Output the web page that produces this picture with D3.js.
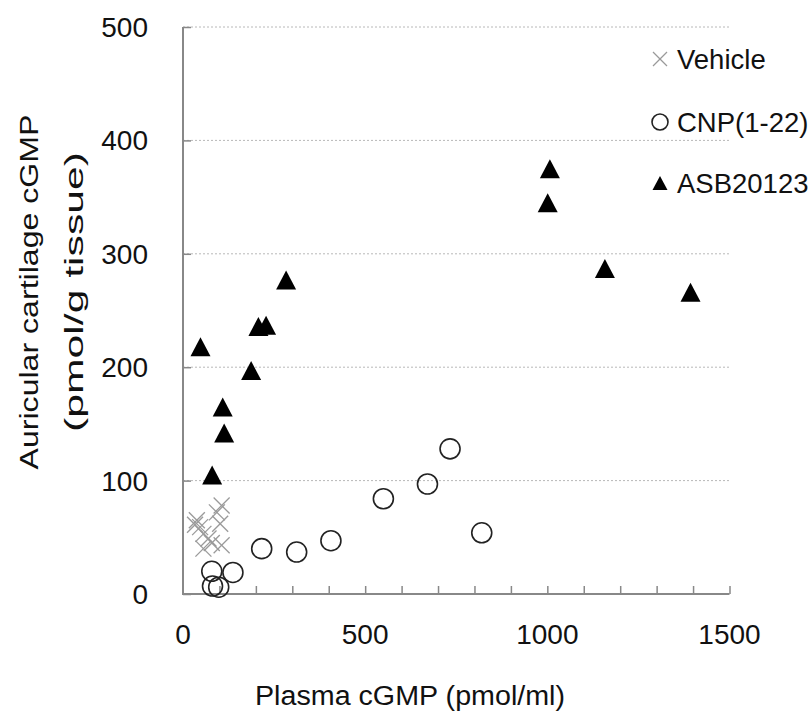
<!DOCTYPE html>
<html>
<head>
<meta charset="utf-8">
<script src="https://cdn.jsdelivr.net/npm/d3@7"></script>
<style>
  body { margin: 0; background: #fff; }
  text { font-family: "Liberation Sans", Arial, sans-serif; fill: #111; }
</style>
</head>
<body>
<div id="chart"></div>
<script>
// values
var vehicleX = [106, 93, 38, 102, 33, 47, 56, 70, 79, 106, 56];
var vehicleY = [78, 72, 65, 62, 61, 59, 53, 49, 45, 43, 40];

var cnpX = [79, 81, 98, 137, 216, 312, 406, 550, 671, 733, 820];
var cnpY = [20, 7, 6, 19, 40, 37, 47, 84, 97, 128, 54];

var asbX = [48, 80, 109, 113, 187, 207, 228, 283, 1001, 1007, 1158, 1393];
var asbY = [218, 105, 165, 142, 197, 236, 237, 277, 345, 375, 287, 266];

var xTicks = [0, 500, 1000, 1500];
var yTicks = [0, 100, 200, 300, 400, 500];
var legendLabels = ["Vehicle", "CNP(1-22)", "ASB20123"];

var width = 811, height = 722;

var x = d3.scaleLinear().domain([0, 1500]).range([183, 729.5]);
var y = d3.scaleLinear().domain([0, 500]).range([594, 27]);

var svg = d3.select("#chart").append("svg")
    .attr("width", width)
    .attr("height", height);

// gridlines
svg.append("g").selectAll("line")
    .data(yTicks.slice(1))
  .enter().append("line")
    .attr("x1", x(0)).attr("x2", x(1500))
    .attr("y1", d => y(d)).attr("y2", d => y(d))
    .attr("stroke", "#b8b8b8")
    .attr("stroke-width", 1)
    .attr("stroke-dasharray", "2,2");

// y axis, ticks pointing inside
var yAxis = d3.axisRight(y).tickValues(yTicks).tickSize(8).tickFormat("");
var gy = svg.append("g").attr("transform", "translate(" + x(0) + ",0)").call(yAxis);
gy.select(".domain").remove();
gy.selectAll(".tick line").attr("stroke", "#888").attr("stroke-width", 1.5);

// x axis, minor ticks every 100 pointing up
var xAxis = d3.axisTop(x).tickValues(d3.range(100, 1501, 100)).tickSize(8).tickFormat("");
var gx = svg.append("g").attr("transform", "translate(0," + y(0) + ")").call(xAxis);
gx.select(".domain").remove();
gx.selectAll(".tick line").attr("stroke", "#888").attr("stroke-width", 1.5);

// axis lines
svg.append("line")
    .attr("x1", x(0)).attr("x2", x(0))
    .attr("y1", y(500)).attr("y2", y(0))
    .attr("stroke", "#888").attr("stroke-width", 2);
svg.append("line")
    .attr("x1", x(0) - 1).attr("x2", x(1500))
    .attr("y1", y(0)).attr("y2", y(0))
    .attr("stroke", "#888").attr("stroke-width", 2);

// tick labels
svg.append("g").selectAll("text")
    .data(yTicks)
  .enter().append("text")
    .attr("x", 148)
    .attr("y", d => y(d))
    .attr("dy", "0.36em")
    .attr("text-anchor", "end")
    .style("font-size", "28px")
    .text(d => d);

svg.append("g").selectAll("text")
    .data(xTicks)
  .enter().append("text")
    .attr("x", d => x(d))
    .attr("y", 644)
    .attr("text-anchor", "middle")
    .style("font-size", "28px")
    .text(d => d);

// axis titles
svg.append("text")
    .attr("x", 410)
    .attr("y", 705)
    .attr("text-anchor", "middle")
    .attr("textLength", 310)
    .attr("lengthAdjust", "spacingAndGlyphs")
    .style("font-size", "27px")
    .text("Plasma cGMP (pmol/ml)");

svg.append("text")
    .attr("transform", "translate(38,292) rotate(-90)")
    .attr("text-anchor", "middle")
    .attr("textLength", 355)
    .attr("lengthAdjust", "spacingAndGlyphs")
    .style("font-size", "26px")
    .text("Auricular cartilage cGMP");

svg.append("text")
    .attr("transform", "translate(83,292) rotate(-90)")
    .attr("text-anchor", "middle")
    .attr("textLength", 280)
    .attr("lengthAdjust", "spacingAndGlyphs")
    .style("font-size", "26px")
    .text("(pmol/g tissue)");

// markers
function cross(g, s) {
  g.append("line").attr("x1", -s).attr("y1", -s).attr("x2", s).attr("y2", s);
  g.append("line").attr("x1", -s).attr("y1", s).attr("x2", s).attr("y2", -s);
}
function triangle(w, h) {
  return "M0," + (-h / 2) + "L" + (w / 2) + "," + (h / 2) + "L" + (-w / 2) + "," + (h / 2) + "Z";
}

var vehicle = d3.zip(vehicleX, vehicleY);
var cnp = d3.zip(cnpX, cnpY);
var asb = d3.zip(asbX, asbY);

svg.append("g").selectAll("g")
    .data(vehicle)
  .enter().append("g")
    .attr("transform", d => "translate(" + x(d[0]) + "," + y(d[1]) + ")")
    .attr("stroke", "#9a9a9a")
    .attr("stroke-width", 1.3)
    .each(function() { cross(d3.select(this), 8); });

svg.append("g").selectAll("circle")
    .data(cnp)
  .enter().append("circle")
    .attr("cx", d => x(d[0]))
    .attr("cy", d => y(d[1]))
    .attr("r", 10)
    .attr("fill", "none")
    .attr("stroke", "#222")
    .attr("stroke-width", 1.6);

svg.append("g").selectAll("path")
    .data(asb)
  .enter().append("path")
    .attr("transform", d => "translate(" + x(d[0]) + "," + y(d[1]) + ")")
    .attr("d", triangle(20, 19))
    .attr("fill", "#000");

// legend
var lx = 660, ly = [59, 122, 183];
var leg = svg.append("g");
var g0 = leg.append("g")
    .attr("transform", "translate(" + lx + "," + ly[0] + ")")
    .attr("stroke", "#9a9a9a").attr("stroke-width", 1.3);
cross(g0, 7);
leg.append("circle")
    .attr("cx", lx).attr("cy", ly[1]).attr("r", 8)
    .attr("fill", "none").attr("stroke", "#222").attr("stroke-width", 1.6);
leg.append("path")
    .attr("transform", "translate(" + lx + "," + ly[2] + ")")
    .attr("d", triangle(15, 14))
    .attr("fill", "#000");

leg.selectAll("text")
    .data(legendLabels)
  .enter().append("text")
    .attr("x", 677)
    .attr("y", (d, i) => ly[i])
    .attr("dy", "0.36em")
    .style("font-size", "27.5px")
    .text(d => d);
</script>
</body>
</html>
